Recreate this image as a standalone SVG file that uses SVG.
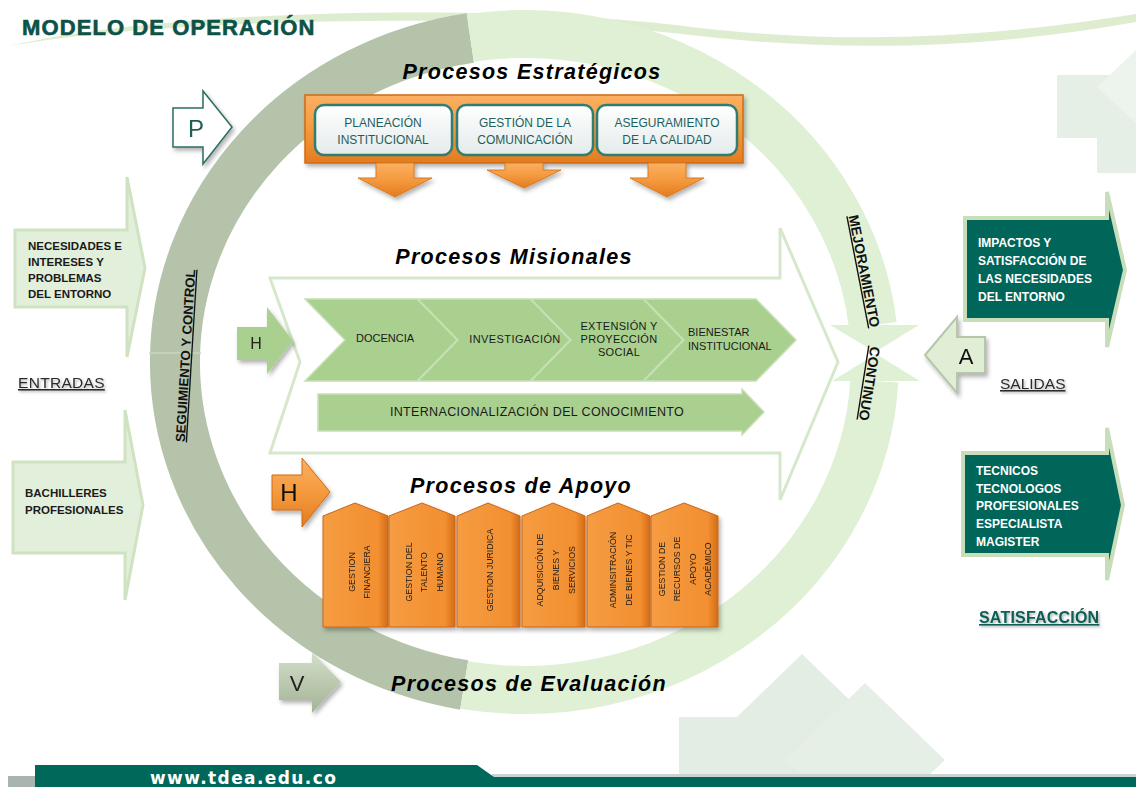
<svg xmlns="http://www.w3.org/2000/svg" width="1136" height="787" viewBox="0 0 1136 787">
<defs>
<linearGradient id="og" x1="0" y1="0" x2="0" y2="1"><stop offset="0" stop-color="#fbb062"/><stop offset="0.5" stop-color="#f49a3e"/><stop offset="1" stop-color="#e37b20"/></linearGradient>
<linearGradient id="cg" x1="0" y1="0" x2="1" y2="0"><stop offset="0" stop-color="#f69c42"/><stop offset="0.85" stop-color="#f28f30"/><stop offset="1" stop-color="#d36c16"/></linearGradient>
<linearGradient id="wg" x1="0" y1="0" x2="0" y2="1"><stop offset="0" stop-color="#ffffff"/><stop offset="1" stop-color="#e4eaea"/></linearGradient>
<linearGradient id="vg" x1="0" y1="0" x2="0" y2="1"><stop offset="0" stop-color="#d4dfca"/><stop offset="1" stop-color="#a3b395"/></linearGradient>
<filter id="sh" x="-15%" y="-15%" width="140%" height="150%"><feDropShadow dx="2" dy="3" stdDeviation="2" flood-color="#000" flood-opacity="0.3"/></filter>
<filter id="ts" x="-5%" y="-20%" width="115%" height="160%"><feDropShadow dx="1.5" dy="1.5" stdDeviation="1" flood-color="#000" flood-opacity="0.3"/></filter>
</defs>
<style>
.f{font-family:"Liberation Sans",Arial,sans-serif}
.hd{font-family:"Liberation Sans",Arial,sans-serif;font-weight:bold;font-style:italic;font-size:21.5px;letter-spacing:1.3px;text-anchor:middle;fill:#000}
.bt{font-family:"Liberation Sans",Arial,sans-serif;font-size:12px;fill:#1f5f5b;text-anchor:middle}
.mt{font-family:"Liberation Sans",Arial,sans-serif;font-size:11px;fill:#1a1a1a;text-anchor:middle}
.ms{font-family:"Liberation Sans",Arial,sans-serif;font-size:11px;fill:#1a1a1a;text-anchor:start}
.ct{font-family:"Liberation Sans",Arial,sans-serif;font-size:8.8px;fill:#1a1a1a;text-anchor:middle}
.lt{font-family:"Liberation Sans",Arial,sans-serif;font-size:11.5px;font-weight:bold;fill:#1a1a1a}
.rt{font-family:"Liberation Sans",Arial,sans-serif;font-size:12px;font-weight:bold;fill:#ffffff}
.col{fill:url(#cg);stroke:#c8661a;stroke-width:1}
.chev{fill:#a9d08e;stroke:#c6e0b4;stroke-width:1.5}
.inbox{fill:url(#wg);stroke:#2f7e72;stroke-width:2.5}
.lin{fill:#e2efda;stroke:#cfe3c2;stroke-width:3}
.rout{fill:#00665a;stroke:#c8ddb9;stroke-width:4}
.dn{fill:url(#og);stroke:#d97a22;stroke-width:1}
</style>
<rect width="1136" height="787" fill="#ffffff"/>

<!-- decorative swoosh -->
<path d="M10,46 C150,12 480,0 700,28 C860,46 1000,36 1136,14 L1136,22 C1000,46 860,54 700,36 C480,10 150,20 10,46 Z" fill="#d6e7c4" opacity="0.8"/>

<!-- background deco -->
<g id="deco" opacity="0.45">
<rect x="1057" y="75" width="68" height="63" fill="#c9dcc9"/>
<rect x="1097" y="110" width="39" height="63" fill="#c9dcc9"/>
<polygon points="1097,87 1136,50 1136,123" fill="#d8e6d8"/>
<rect x="679" y="717" width="102" height="60" fill="#c3d9c3"/>
<polygon points="802,654 891,740 802,826 713,740" fill="#c3d9c3"/>
<polygon points="865,683 945,760 865,837 786,760" fill="#c9dcc9"/>
</g>

<!-- cycle arcs -->
<g id="cycle">
<path d="M470.3,38 A350,328 0 0 0 464.2,685" fill="none" stroke="#b4c3aa" stroke-width="50"/>
<line x1="149" y1="353" x2="201" y2="353" stroke="#c9d4c1" stroke-width="1.5"/>
<path d="M470.3,38 A350,328 0 0 1 872.8,325" fill="none" stroke="#dff0d5" stroke-width="48"/>
<path d="M464.2,685 A350,328 0 0 0 874.4,381" fill="none" stroke="#dff0d5" stroke-width="48"/>
<polygon points="830,325 919,325 875,352" fill="#dff0d5"/>
<polygon points="832,381 920,381 876,354" fill="#dff0d5"/>
</g>

<!-- title -->
<text id="title" class="f" x="22" y="35" font-size="22" font-weight="bold" letter-spacing="1.1" fill="#0b5247" stroke="#0b5247" stroke-width="0.6">MODELO DE OPERACIÓN</text>

<!-- P arrow -->
<g id="p-arrow" filter="url(#sh)">
<polygon points="173,108 203,108 203,91 232,127 203,164 203,147 173,147" fill="#ffffff" stroke="#2c6e63" stroke-width="1.5"/>
<text class="f" x="196" y="137" font-size="24" fill="#1e5e55" text-anchor="middle">P</text>
</g>

<!-- Procesos Estratégicos -->
<g id="estrategicos">
<text class="hd" x="532" y="79">Procesos Estratégicos</text>
<rect x="305" y="95" width="438" height="68" fill="url(#og)" stroke="#d06a16" stroke-width="1.5" filter="url(#sh)"/>
<g id="planeacion"><rect class="inbox" x="315" y="105" width="137" height="50" rx="9"/>
<text class="bt" x="383" y="127">PLANEACIÓN</text><text class="bt" x="383" y="144">INSTITUCIONAL</text></g>
<g id="comunicacion"><rect class="inbox" x="457" y="105" width="136" height="50" rx="9"/>
<text class="bt" x="525" y="127">GESTIÓN DE LA</text><text class="bt" x="525" y="144">COMUNICACIÓN</text></g>
<g id="calidad"><rect class="inbox" x="597" y="105" width="140" height="50" rx="9"/>
<text class="bt" x="667" y="127">ASEGURAMIENTO</text><text class="bt" x="667" y="144">DE LA CALIDAD</text></g>
</g>

<!-- connectors -->
<g id="connectors" filter="url(#sh)">
<polygon class="dn" points="376,163 414,163 414,178 432,178 395,197 358,178 376,178"/>
<polygon class="dn" points="505,163 543,163 543,170 561,170 524,188 487,170 505,170"/>
<polygon class="dn" points="648,163 686,163 686,178 704,178 667,197 630,178 648,178"/>
</g>

<!-- Procesos Misionales -->
<g id="misionales">
<polygon points="270,278 780,278 780,228 838,362 780,500 780,453 270,453 300,362" fill="#ffffff" stroke="#d5e8cc" stroke-width="3"/>
<text class="hd" x="514" y="264">Procesos Misionales</text>
<g id="docencia"><polygon class="chev" points="305,299 417,299 457,340 417,381 305,381 345,340"/>
<text class="mt" x="385" y="342">DOCENCIA</text></g>
<g id="investigacion"><polygon class="chev" points="418,299 530,299 570,340 530,381 418,381 458,340"/>
<text class="mt" x="515" y="343" letter-spacing="0.4">INVESTIGACIÓN</text></g>
<g id="extension"><polygon class="chev" points="531,299 643,299 683,340 643,381 531,381 571,340"/>
<text class="mt" x="619" y="330" letter-spacing="0.3">EXTENSIÓN Y</text><text class="mt" x="619" y="343" letter-spacing="0.3">PROYECCIÓN</text><text class="mt" x="619" y="356" letter-spacing="0.3">SOCIAL</text></g>
<g id="bienestar"><polygon class="chev" points="644,299 756,299 796,340 756,381 644,381 684,340"/>
<text class="ms" x="688" y="336">BIENESTAR</text><text class="ms" x="688" y="350">INSTITUCIONAL</text></g>
<g id="internacionalizacion"><polygon class="chev" points="318,394 742,394 742,389 764,412 742,435 742,431 318,431"/>
<text class="f" x="537" y="416" font-size="12.5" letter-spacing="0.35" fill="#1a1a1a" text-anchor="middle">INTERNACIONALIZACIÓN DEL CONOCIMIENTO</text></g>
</g>

<!-- H arrow (misionales) -->
<g id="h-arrow-mis" filter="url(#sh)">
<polygon points="237,327 267,327 267,307 293,341 267,374 267,360 237,360" fill="#a9d08e"/>
<text class="f" x="256" y="349" font-size="16" fill="#222" text-anchor="middle">H</text>
</g>

<!-- Procesos de Apoyo -->
<g id="apoyo">
<text class="hd" x="521" y="493">Procesos de Apoyo</text>
<g filter="url(#sh)">
<g id="financiera"><polygon class="col" points="323,516 355,503 388,516 388,627 323,627"/>
<text class="ct" transform="translate(355,572) rotate(-90)">GESTION</text>
<text class="ct" transform="translate(370,572) rotate(-90)">FINANCIERA</text></g>
<g id="talento"><polygon class="col" points="389,516 422,503 455,516 455,627 389,627"/>
<text class="ct" transform="translate(412,572) rotate(-90)">GESTION DEL</text>
<text class="ct" transform="translate(427,572) rotate(-90)">TALENTO</text>
<text class="ct" transform="translate(443,572) rotate(-90)">HUMANO</text></g>
<g id="juridica"><polygon class="col" points="457,516 488,503 520,516 520,627 457,627"/>
<text class="ct" transform="translate(493,570) rotate(-90)">GESTION JURIDICA</text></g>
<g id="adquisicion"><polygon class="col" points="522,516 553,503 585,516 585,627 522,627"/>
<text class="ct" transform="translate(543,570) rotate(-90)">ADQUISICIÓN DE</text>
<text class="ct" transform="translate(559,570) rotate(-90)">BIENES Y</text>
<text class="ct" transform="translate(575,570) rotate(-90)">SERVICIOS</text></g>
<g id="administracion"><polygon class="col" points="587,516 618,503 650,516 650,627 587,627"/>
<text class="ct" transform="translate(616,570) rotate(-90)">ADMINSITRACIÓN</text>
<text class="ct" transform="translate(632,570) rotate(-90)">DE BIENES Y TIC</text></g>
<g id="recursos"><polygon class="col" points="651,516 684,503 718,516 718,627 651,627"/>
<text class="ct" transform="translate(665,569) rotate(-90)">GESTION DE</text>
<text class="ct" transform="translate(680,569) rotate(-90)">RECURSOS DE</text>
<text class="ct" transform="translate(696,569) rotate(-90)">APOYO</text>
<text class="ct" transform="translate(711,569) rotate(-90)">ACADÉMICO</text></g>
</g>
</g>

<!-- H arrow (apoyo) -->
<g id="h-arrow-apo" filter="url(#sh)">
<polygon points="272,475 302,475 302,458 330,492 302,527 302,510 272,510" fill="url(#og)" stroke="#d06a16" stroke-width="1"/>
<text class="f" x="289" y="501" font-size="24" fill="#111" text-anchor="middle">H</text>
</g>

<!-- Procesos de Evaluación -->
<g id="evaluacion">
<text class="hd" x="529" y="691">Procesos de Evaluación</text>
</g>
<g id="v-arrow" filter="url(#sh)">
<polygon points="279,663 312,663 312,652 341,682 312,713 312,700 279,700" fill="url(#vg)"/>
<text class="f" x="297" y="691" font-size="22" fill="#222" text-anchor="middle">V</text>
</g>

<!-- cycle labels -->
<g id="cycle-labels">
<text class="f" transform="translate(190,356) rotate(-86.5)" font-size="13.2" font-weight="bold" fill="#111" text-anchor="middle" text-decoration="underline">SEGUIMIENTO Y CONTROL</text>
<text class="f" transform="translate(848.6,216) rotate(79)" font-size="14" font-weight="bold" fill="#111" text-decoration="underline">MEJORAMIENTO</text>
<text class="f" transform="translate(870.5,346) rotate(99)" font-size="14" font-weight="bold" fill="#111" text-decoration="underline">CONTINUO</text>
</g>

<!-- Entradas -->
<g id="entrada-necesidades">
<polygon class="lin" points="15,230 127,230 127,177 145,268 127,357 127,307 15,307"/>
<text class="lt" x="28" y="250">NECESIDADES E</text>
<text class="lt" x="28" y="266">INTERESES Y</text>
<text class="lt" x="28" y="282">PROBLEMAS</text>
<text class="lt" x="28" y="298">DEL ENTORNO</text>
</g>
<g id="entrada-bachilleres">
<polygon class="lin" points="13,462 125,462 125,410 143,505 125,600 125,553 13,553"/>
<text class="lt" x="25" y="497">BACHILLERES</text>
<text class="lt" x="25" y="514">PROFESIONALES</text>
</g>
<text id="entradas" class="f" x="18" y="388" font-size="15.5" letter-spacing="0.3" fill="#2b2b2b" text-decoration="underline" filter="url(#ts)">ENTRADAS</text>

<!-- A arrow -->
<g id="a-arrow" filter="url(#sh)">
<polygon points="925,355 957,317 957,337 985,337 985,373 957,373 957,393" fill="#dfeed4" stroke="#b5c7a8" stroke-width="2"/>
<text class="f" x="966" y="364" font-size="22" fill="#111" text-anchor="middle">A</text>
</g>

<!-- Salidas -->
<g id="salida-impactos">
<polygon class="rout" points="965,218 1107,218 1107,192 1125,270 1107,347 1107,320 965,320"/>
<text class="rt" x="978" y="247">IMPACTOS Y</text>
<text class="rt" x="978" y="265">SATISFACCIÓN DE</text>
<text class="rt" x="978" y="283">LAS NECESIDADES</text>
<text class="rt" x="978" y="301">DEL ENTORNO</text>
</g>
<g id="salida-egresados">
<polygon class="rout" points="963,453 1107,453 1107,428 1123,505 1107,580 1107,555 963,555"/>
<text class="rt" x="976" y="475">TECNICOS</text>
<text class="rt" x="976" y="493">TECNOLOGOS</text>
<text class="rt" x="976" y="510">PROFESIONALES</text>
<text class="rt" x="976" y="528">ESPECIALISTA</text>
<text class="rt" x="976" y="546">MAGISTER</text>
</g>
<text id="salidas" class="f" x="1000" y="389" font-size="15.5" fill="#2b2b2b" text-decoration="underline" filter="url(#ts)">SALIDAS</text>
<text id="satisfaccion" class="f" x="979" y="623" font-size="16" font-weight="bold" letter-spacing="0.2" fill="#0b5e55" text-decoration="underline" filter="url(#ts)">SATISFACCIÓN</text>

<!-- footer -->
<g id="footer">
<rect x="8" y="776" width="28" height="11" fill="#a9b3b1"/>
<rect x="492" y="774" width="644" height="3" fill="#c9d3d0"/>
<polygon points="35,765 477,765 494,777 1136,777 1136,787 35,787" fill="#00685a"/>
<text x="150" y="784" font-family="'DejaVu Sans',sans-serif" font-size="17" font-weight="bold" letter-spacing="1.4" fill="#ffffff">www.tdea.edu.co</text>
</g>
</svg>
